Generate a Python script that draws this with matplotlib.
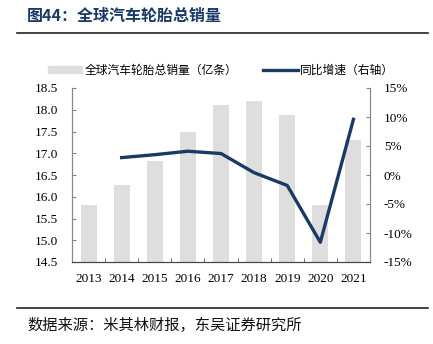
import matplotlib
matplotlib.use("Agg")
import matplotlib.pyplot as plt
import numpy as np
from matplotlib.lines import Line2D

plt.rcParams['font.family'] = ['Liberation Serif', 'Noto Sans CJK SC']

years = ['2013', '2014', '2015', '2016', '2017', '2018', '2019', '2020', '2021']
sales = [15.80, 16.26, 16.82, 17.48, 18.12, 18.21, 17.89, 15.80, 17.30]
growth_years = ['2014', '2015', '2016', '2017', '2018', '2019', '2020', '2021']
growth = [3.0, 3.5, 4.1, 3.7, 0.4, -1.8, -11.6, 9.6]

bar_label = '全球汽车轮胎总销量（亿条）'
line_label = '同比增速（右轴）'
navy = '#1a3a66'
gray_bar = '#dedede'
cjk = ['Noto Sans CJK SC', 'DejaVu Sans']

fig = plt.figure(figsize=(4.33, 3.44), dpi=100)
ax = fig.add_axes([72 / 433, 1 - 262 / 344, 298 / 433, 174 / 344])

x = np.arange(len(years))
ax.bar(x, np.array(sales) - 14.5, bottom=14.5, width=0.48, color=gray_bar, zorder=1)
ax.set_xlim(-0.5, len(years) - 0.5)
ax.set_ylim(14.5, 18.5)
ax.set_yticks(np.arange(14.5, 18.51, 0.5))
ax.set_yticklabels([f'{v:.1f}' for v in np.arange(14.5, 18.51, 0.5)])
ax.set_xticks(x)
ax.set_xticklabels(years)
ax.set_xticks(np.arange(-0.5, len(years), 1), minor=True)
ax.tick_params(axis='x', which='major', length=0, pad=8, labelsize=9.5)
ax.tick_params(axis='x', which='minor', length=3, direction='in', color='#555555')
ax.tick_params(axis='y', length=3, direction='in', color='#888888', labelsize=9.5, pad=10)

ax2 = ax.twinx()
gx = [years.index(y) for y in growth_years]
ax2.plot(gx, growth, color=navy, linewidth=2.4, zorder=3)
ax2.set_ylim(-15, 15)
ax2.set_yticks(np.arange(-15, 16, 5))
ax2.set_yticklabels([f'{v}%' for v in range(-15, 16, 5)])
ax2.tick_params(axis='y', length=3, direction='in', color='#888888', labelsize=9.5, pad=10)

for a in (ax, ax2):
    a.spines['top'].set_visible(False)
    a.spines['left'].set_color('#888888')
    a.spines['right'].set_color('#888888')
    a.spines['bottom'].set_color('#444444')

# legend
handles = [plt.Rectangle((0, 0), 1, 1, color=gray_bar),
           Line2D([0], [0], color=navy, linewidth=2.4)]
fig.legend(handles, [bar_label, line_label], loc='center', bbox_to_anchor=(221 / 433, 1 - 70 / 344),
           ncol=2, frameon=False, prop={'family': cjk, 'size': 8.5}, handlelength=2.9,
           handleheight=0.6, columnspacing=2.2, handletextpad=0.2)

# title and frame lines
fig.text(27 / 433, 1 - 16 / 344, '图44：全球汽车轮胎总销量', fontsize=11.5, fontweight='bold',
         color=navy, family=cjk, va='center', ha='left')
fig.add_artist(Line2D([17 / 433, 428 / 433], [1 - 33 / 344] * 2, color='#222222', linewidth=1.2))
fig.add_artist(Line2D([17 / 433, 428 / 433], [1 - 308 / 344] * 2, color='#222222', linewidth=1.2))
fig.text(27 / 433, 1 - 325 / 344, '数据来源：米其林财报，东吴证券研究所', fontsize=11,
         family=cjk, va='center', ha='left', color='#111111')

fig.savefig('out.png', dpi=100)
